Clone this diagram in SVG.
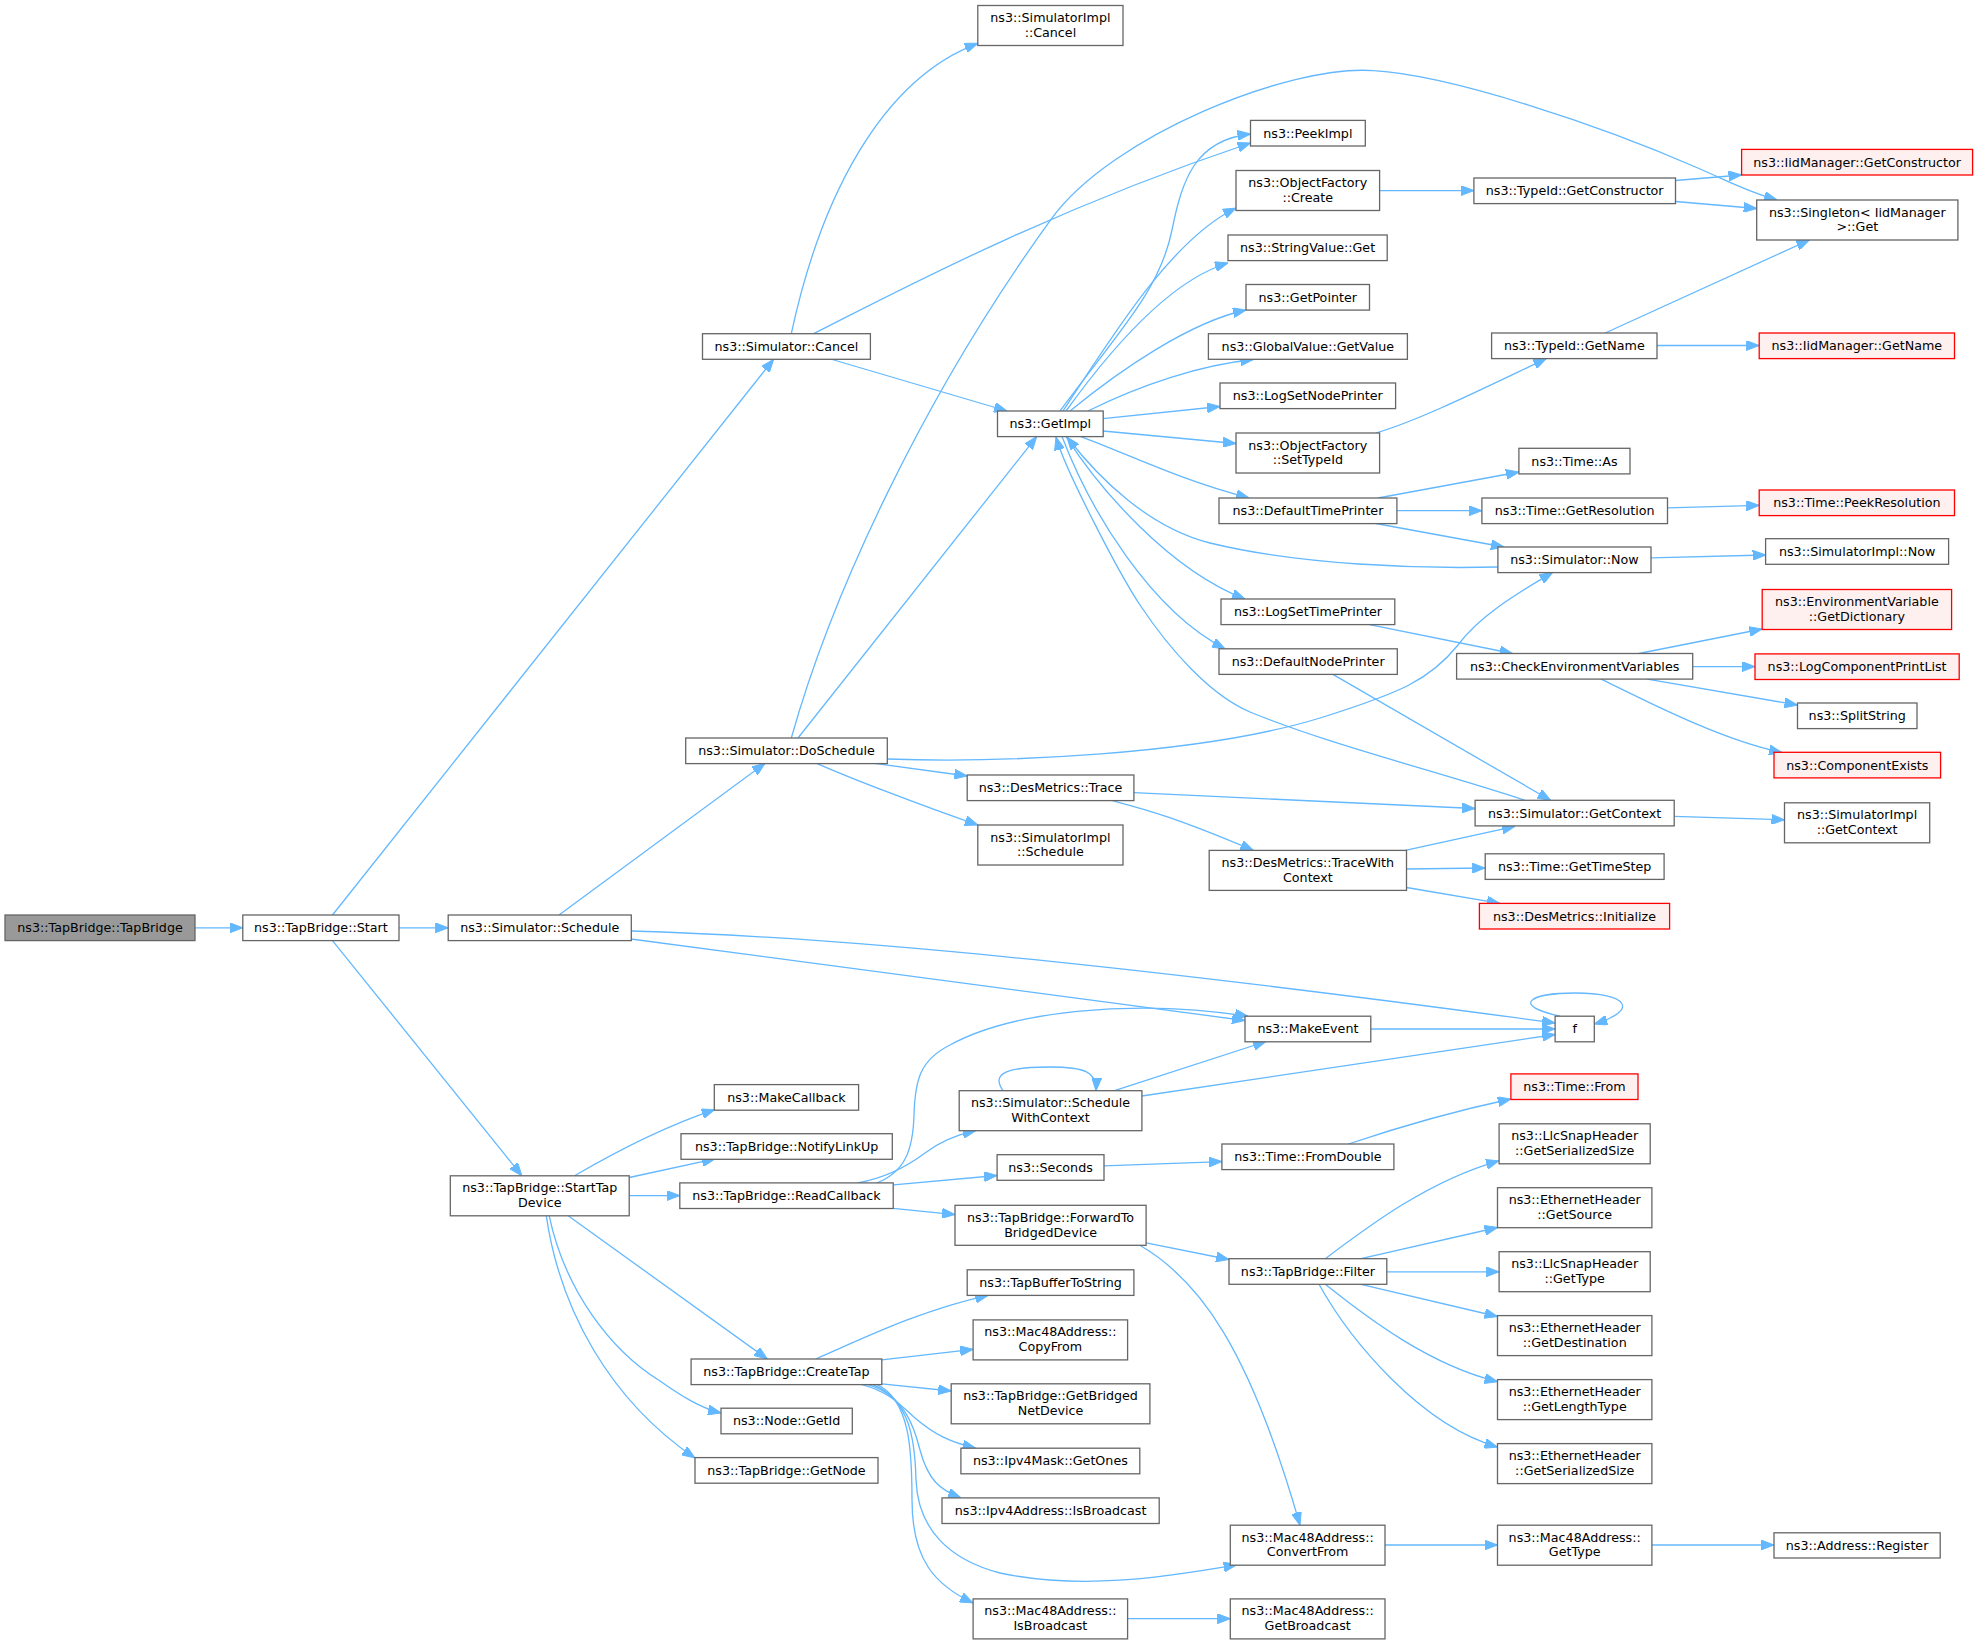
<svg xmlns="http://www.w3.org/2000/svg" width="1979" height="1644" viewBox="0 0 1979 1644">
<style>
.n rect{fill:#ffffff;stroke:#666666;stroke-width:1.3}
.r rect{fill:#fff0f0;stroke:#ff0000;stroke-width:1.3}
.root rect{fill:#999999;stroke:#666666;stroke-width:1.3}
text{font-family:"DejaVu Sans","Liberation Sans",sans-serif;font-size:12.7px;text-anchor:middle;fill:#000}
.e path{fill:none;stroke:#63b8ff;stroke-width:1.3;marker-end:url(#ah)}
</style>
<defs>
<marker id="ah" viewBox="0 0 13 10" refX="13" refY="5" markerWidth="13" markerHeight="10" orient="auto" markerUnits="userSpaceOnUse"><path d="M0,0 L13,5 L0,10 z" fill="#63b8ff" stroke="#63b8ff" stroke-width="1"/></marker>
</defs>
<rect width="1979" height="1644" fill="#ffffff"/>
<g id="edges" class="e">
<path d="M195,927.8 L242.8,927.8"/>
<path d="M332.5,915 L773.6,359.3"/>
<path d="M399,927.8 L448.2,927.8"/>
<path d="M332.5,940.6 L521.9,1175.8"/>
<path d="M559,915 L765,763.3"/>
<path d="M631,939 L1245,1020.5"/>
<path d="M631.3,931 C880,938 1200,975 1555.1,1023"/>
<path d="M791.3,333.7 C820,200 880,80 977.8,43.3"/>
<path d="M813.6,333.7 C900,290 1050,210 1250.5,143"/>
<path d="M830.5,359 L1007,411"/>
<path d="M791.3,738 C830,600 920,400 1051.4,218.9 C1111.4,136 1290,64 1373.7,70.7 C1450,75 1600,125 1697.8,168 C1730,182 1748,192 1777,200"/>
<path d="M798,738 L1036.7,436.6"/>
<path d="M887.3,759 C1000,763 1200,755 1320,718 C1400,693 1430,680 1458,645 C1480,615 1520,592 1552.6,572.4"/>
<path d="M874.6,763.3 L967.2,776"/>
<path d="M816.6,763.3 C850,778 920,805 977.8,825"/>
<path d="M1060,411 C1120,330 1160,290 1172,230 C1182,180 1195,140 1250.5,134"/>
<path d="M1063,411 C1110,340 1170,240 1236,208"/>
<path d="M1066,411 C1110,350 1170,280 1228,263"/>
<path d="M1070,411 C1120,370 1190,322 1246,310"/>
<path d="M1088,411 C1140,385 1200,365 1253.4,359.5"/>
<path d="M1103,418.7 L1220,406.5"/>
<path d="M1103,431 L1236,443.5"/>
<path d="M1081,436.6 C1130,455 1180,480 1249,498"/>
<path d="M1066,436.6 C1100,490 1170,570 1245,599"/>
<path d="M1062,436.6 C1090,510 1150,610 1225,648.8"/>
<path d="M1497.9,567 C1420,569 1300,565 1210,543 C1150,528 1100,480 1067,437"/>
<path d="M1525,800.3 C1440,772 1330,745 1250,712 C1210,695 1170,650 1140,605 C1120,575 1065,470 1056,437"/>
<path d="M1651,557.8 L1765.6,555"/>
<path d="M1379.6,190.6 L1473.9,190.6"/>
<path d="M1675.5,180.5 L1741.6,175"/>
<path d="M1675.5,201.5 L1756.7,208.5"/>
<path d="M1375.8,433 C1420,420 1480,390 1546.3,358.6"/>
<path d="M1605.2,333 L1809.3,240"/>
<path d="M1657,345.5 L1759.2,345.5"/>
<path d="M1378,498 L1519,472"/>
<path d="M1396.9,510.7 L1481.9,510.7"/>
<path d="M1375.8,523.5 L1504,547"/>
<path d="M1667.5,507.8 L1759.2,505.4"/>
<path d="M1369.5,624.6 L1512.6,653.5"/>
<path d="M1638.9,653.5 L1762.2,629"/>
<path d="M1692.7,666.6 L1755,666.6"/>
<path d="M1647.3,679.1 L1797.5,705"/>
<path d="M1601,679.1 C1640,698 1720,740 1782,752.5"/>
<path d="M1331.6,673.6 L1550.5,800.3"/>
<path d="M1133.9,792.7 L1475.1,808.5"/>
<path d="M1112.4,800.7 C1140,808 1170,815 1253.4,850.4"/>
<path d="M1674.2,816.3 L1784.5,819.8"/>
<path d="M1405.3,850.4 L1515,826.3"/>
<path d="M1406.5,869 L1485.2,868"/>
<path d="M1406.5,887.5 L1500,903.4"/>
<path d="M1370.8,1029 L1555.1,1029"/>
<path d="M1560,1016.2 C1510,1005 1530,993 1575,993 C1628,993 1640,1010 1594.3,1024"/>
<path d="M1003,1090.7 C990,1072 1010,1067 1050,1067 C1085,1067 1097,1072 1096,1090.7"/>
<path d="M1114.5,1090.7 L1266,1041.5"/>
<path d="M1141.9,1096 L1555.1,1034.5"/>
<path d="M876.7,1183 C905,1172 913,1150 914,1115 C915,1080 920,1060 950,1045 C1010,1012 1130,998 1248,1016.2"/>
<path d="M857.8,1182.9 C885,1178 905,1168 925,1153 C940,1142 955,1135 975.7,1130.7"/>
<path d="M893.6,1184.8 L997.1,1175.5"/>
<path d="M893.2,1208.3 L955,1214.6"/>
<path d="M1104,1165.8 L1221.9,1161.6"/>
<path d="M1348.5,1144 C1390,1130 1450,1112 1510.9,1099"/>
<path d="M1146.1,1242.8 L1229,1259.5"/>
<path d="M1139.8,1245.3 C1200,1280 1250,1350 1300,1525.2"/>
<path d="M1325.3,1258.7 C1370,1225 1430,1180 1499.1,1160.8"/>
<path d="M1361,1258.7 L1497.5,1227.5"/>
<path d="M1386.8,1271.8 L1499.1,1271.8"/>
<path d="M1361,1284.3 L1497.5,1316.5"/>
<path d="M1325.3,1284.3 C1370,1320 1430,1365 1497.5,1381.7"/>
<path d="M1319,1284.3 C1350,1340 1420,1425 1497.5,1447"/>
<path d="M1385,1545 L1497.5,1545"/>
<path d="M1651.9,1545 L1774,1545"/>
<path d="M1127.6,1618.7 L1230.3,1618.7"/>
<path d="M574.5,1175.8 C610,1155 660,1128 714.7,1109.6"/>
<path d="M629.2,1177.5 L715,1158.9"/>
<path d="M629.2,1195.6 L679.8,1195.6"/>
<path d="M568.2,1215.8 L767.3,1359"/>
<path d="M549.2,1215.8 C565,1290 610,1350 660,1381 C680,1395 700,1408 721,1413"/>
<path d="M546.3,1215.8 C560,1310 610,1400 695,1458"/>
<path d="M815.7,1359 C860,1340 920,1310 988.3,1295.3"/>
<path d="M881.8,1359.8 L973.1,1349.3"/>
<path d="M881.8,1383.8 L951.2,1391"/>
<path d="M862,1384.6 C890,1392 900,1405 915,1418 C935,1435 950,1442 975.7,1448.2"/>
<path d="M868,1384.6 C905,1395 915,1430 920,1450 C928,1480 940,1490 961,1497.9"/>
<path d="M873,1384.6 C910,1400 915,1440 916,1480 C918,1530 950,1560 1000,1573 C1080,1590 1160,1578 1236.6,1564.8"/>
<path d="M877,1384.6 C910,1400 912,1450 912,1500 C912,1560 935,1585 973.1,1603"/>
</g>
<g id="n_tapbridge" class="root"><rect x="5" y="915" width="190" height="25.6"/><text x="100" y="932.2">ns3::TapBridge::TapBridge</text></g>
<g id="n_start" class="n"><rect x="242.8" y="915" width="156.2" height="25.6"/><text x="320.9" y="932.2">ns3::TapBridge::Start</text></g>
<g id="n_schedule" class="n"><rect x="448.2" y="915" width="183.1" height="25.6"/><text x="539.75" y="932.2">ns3::Simulator::Schedule</text></g>
<g id="n_cancel" class="n"><rect x="702.5" y="333.7" width="167.9" height="25.6"/><text x="786.45" y="350.9">ns3::Simulator::Cancel</text></g>
<g id="n_simimpl_cancel" class="n"><rect x="977.8" y="5.5" width="145.2" height="40"/><text x="1050.4" y="22">ns3::SimulatorImpl</text><text x="1050.4" y="36.7">::Cancel</text></g>
<g id="n_peekimpl" class="n"><rect x="1250.5" y="120.4" width="114.8" height="25.6"/><text x="1307.9" y="137.6">ns3::PeekImpl</text></g>
<g id="n_of_create" class="n"><rect x="1236" y="170.5" width="143.6" height="40"/><text x="1307.8" y="187">ns3::ObjectFactory</text><text x="1307.8" y="201.7">::Create</text></g>
<g id="n_stringvalue" class="n"><rect x="1228" y="235" width="159.2" height="25.6"/><text x="1307.6" y="252.2">ns3::StringValue::Get</text></g>
<g id="n_getpointer" class="n"><rect x="1246" y="284.5" width="123.5" height="25.6"/><text x="1307.75" y="301.7">ns3::GetPointer</text></g>
<g id="n_globalvalue" class="n"><rect x="1208.4" y="333.7" width="199" height="25.6"/><text x="1307.9" y="350.9">ns3::GlobalValue::GetValue</text></g>
<g id="n_logsetnode" class="n"><rect x="1220" y="383" width="175.6" height="25.6"/><text x="1307.8" y="400.2">ns3::LogSetNodePrinter</text></g>
<g id="n_of_settypeid" class="n"><rect x="1236" y="433" width="143.6" height="40"/><text x="1307.8" y="449.5">ns3::ObjectFactory</text><text x="1307.8" y="464.2">::SetTypeId</text></g>
<g id="n_defaulttime" class="n"><rect x="1219" y="498" width="177.9" height="25.6"/><text x="1307.95" y="515.2">ns3::DefaultTimePrinter</text></g>
<g id="n_logsettime" class="n"><rect x="1221" y="599" width="173.8" height="25.6"/><text x="1307.9" y="616.2">ns3::LogSetTimePrinter</text></g>
<g id="n_defaultnode" class="n"><rect x="1219" y="648.8" width="178.3" height="25.6"/><text x="1308.15" y="666">ns3::DefaultNodePrinter</text></g>
<g id="n_getimpl" class="n"><rect x="997.5" y="411" width="105.7" height="25.6"/><text x="1050.35" y="428.2">ns3::GetImpl</text></g>
<g id="n_typeid_getconstructor" class="n"><rect x="1473.9" y="178" width="201.6" height="25.6"/><text x="1574.7" y="195.2">ns3::TypeId::GetConstructor</text></g>
<g id="n_iid_getconstructor" class="r"><rect x="1741.6" y="149.4" width="231" height="25.6"/><text x="1857.1" y="166.6">ns3::IidManager::GetConstructor</text></g>
<g id="n_singleton" class="n"><rect x="1756.7" y="200" width="201.2" height="40"/><text x="1857.3" y="216.5">ns3::Singleton&lt; IidManager</text><text x="1857.3" y="231.2">&gt;::Get</text></g>
<g id="n_typeid_getname" class="n"><rect x="1491.6" y="333" width="165.4" height="25.6"/><text x="1574.3" y="350.2">ns3::TypeId::GetName</text></g>
<g id="n_iid_getname" class="r"><rect x="1759.2" y="333" width="195.3" height="25.6"/><text x="1856.85" y="350.2">ns3::IidManager::GetName</text></g>
<g id="n_time_as" class="n"><rect x="1518.9" y="448.3" width="111.1" height="25.6"/><text x="1574.45" y="465.5">ns3::Time::As</text></g>
<g id="n_getresolution" class="n"><rect x="1481.9" y="498" width="185.6" height="25.6"/><text x="1574.7" y="515.2">ns3::Time::GetResolution</text></g>
<g id="n_peekresolution" class="r"><rect x="1759.2" y="490" width="195.3" height="25.6"/><text x="1856.85" y="507.2">ns3::Time::PeekResolution</text></g>
<g id="n_sim_now" class="n"><rect x="1497.9" y="547" width="153.1" height="25.6"/><text x="1574.45" y="564.2">ns3::Simulator::Now</text></g>
<g id="n_simimpl_now" class="n"><rect x="1765.6" y="538.7" width="183" height="25.6"/><text x="1857.1" y="555.9">ns3::SimulatorImpl::Now</text></g>
<g id="n_checkenv" class="n"><rect x="1456.6" y="653.5" width="236.1" height="25.6"/><text x="1574.65" y="670.7">ns3::CheckEnvironmentVariables</text></g>
<g id="n_getdictionary" class="r"><rect x="1762.2" y="589.5" width="189.4" height="40"/><text x="1856.9" y="606">ns3::EnvironmentVariable</text><text x="1856.9" y="620.7">::GetDictionary</text></g>
<g id="n_logcomponent" class="r"><rect x="1755" y="653.9" width="204.2" height="25.6"/><text x="1857.1" y="671.1">ns3::LogComponentPrintList</text></g>
<g id="n_splitstring" class="n"><rect x="1797.5" y="703" width="119.5" height="25.6"/><text x="1857.25" y="720.2">ns3::SplitString</text></g>
<g id="n_componentexists" class="r"><rect x="1774" y="752.3" width="166.6" height="25.6"/><text x="1857.3" y="769.5">ns3::ComponentExists</text></g>
<g id="n_doschedule" class="n"><rect x="685.7" y="738" width="201.6" height="25.6"/><text x="786.5" y="755.2">ns3::Simulator::DoSchedule</text></g>
<g id="n_trace" class="n"><rect x="967.2" y="775" width="166.7" height="25.6"/><text x="1050.55" y="792.2">ns3::DesMetrics::Trace</text></g>
<g id="n_simimpl_schedule" class="n"><rect x="977.8" y="825" width="145.2" height="40"/><text x="1050.4" y="841.5">ns3::SimulatorImpl</text><text x="1050.4" y="856.2">::Schedule</text></g>
<g id="n_tracewithcontext" class="n"><rect x="1209.2" y="850.4" width="197.3" height="40"/><text x="1307.85" y="866.9">ns3::DesMetrics::TraceWith</text><text x="1307.85" y="881.6">Context</text></g>
<g id="n_getcontext" class="n"><rect x="1475.1" y="800.3" width="199.1" height="25.6"/><text x="1574.65" y="817.5">ns3::Simulator::GetContext</text></g>
<g id="n_simimpl_getcontext" class="n"><rect x="1784.5" y="802.8" width="145.2" height="40"/><text x="1857.1" y="819.3">ns3::SimulatorImpl</text><text x="1857.1" y="834">::GetContext</text></g>
<g id="n_gettimestep" class="n"><rect x="1485.2" y="853.8" width="178.9" height="25.6"/><text x="1574.65" y="871">ns3::Time::GetTimeStep</text></g>
<g id="n_initialize" class="r"><rect x="1479.4" y="903.4" width="190.2" height="25.6"/><text x="1574.5" y="920.6">ns3::DesMetrics::Initialize</text></g>
<g id="n_makeevent" class="n"><rect x="1245" y="1016.2" width="125.8" height="25.6"/><text x="1307.9" y="1033.4">ns3::MakeEvent</text></g>
<g id="n_f" class="n"><rect x="1555.1" y="1016.2" width="39.2" height="25.6"/><text x="1574.7" y="1033.4">f</text></g>
<g id="n_schedulewithcontext" class="n"><rect x="959.2" y="1090.7" width="182.7" height="40"/><text x="1050.55" y="1107.2">ns3::Simulator::Schedule</text><text x="1050.55" y="1121.9">WithContext</text></g>
<g id="n_time_from" class="r"><rect x="1510.9" y="1073.9" width="127.1" height="25.6"/><text x="1574.45" y="1091.1">ns3::Time::From</text></g>
<g id="n_fromdouble" class="n"><rect x="1221.9" y="1144" width="172" height="25.6"/><text x="1307.9" y="1161.2">ns3::Time::FromDouble</text></g>
<g id="n_seconds" class="n"><rect x="997.1" y="1154.7" width="106.9" height="25.6"/><text x="1050.55" y="1171.9">ns3::Seconds</text></g>
<g id="n_makecallback" class="n"><rect x="714.3" y="1084.6" width="144.3" height="25.6"/><text x="786.45" y="1101.8">ns3::MakeCallback</text></g>
<g id="n_notifylinkup" class="n"><rect x="681" y="1133.7" width="211.3" height="25.6"/><text x="786.65" y="1150.9">ns3::TapBridge::NotifyLinkUp</text></g>
<g id="n_starttapdevice" class="n"><rect x="450.3" y="1175.8" width="178.9" height="40"/><text x="539.75" y="1192.3">ns3::TapBridge::StartTap</text><text x="539.75" y="1207">Device</text></g>
<g id="n_readcallback" class="n"><rect x="679.8" y="1182.9" width="213.4" height="25.6"/><text x="786.5" y="1200.1">ns3::TapBridge::ReadCallback</text></g>
<g id="n_forwardto" class="n"><rect x="955" y="1205.3" width="191.1" height="40"/><text x="1050.55" y="1221.8">ns3::TapBridge::ForwardTo</text><text x="1050.55" y="1236.5">BridgedDevice</text></g>
<g id="n_filter" class="n"><rect x="1229" y="1258.7" width="157.8" height="25.6"/><text x="1307.9" y="1275.9">ns3::TapBridge::Filter</text></g>
<g id="n_llc_getserializedsize" class="n"><rect x="1499.1" y="1123.8" width="151.1" height="40"/><text x="1574.65" y="1140.3">ns3::LlcSnapHeader</text><text x="1574.65" y="1155">::GetSerializedSize</text></g>
<g id="n_eth_getsource" class="n"><rect x="1497.5" y="1187.7" width="154.4" height="40"/><text x="1574.7" y="1204.2">ns3::EthernetHeader</text><text x="1574.7" y="1218.9">::GetSource</text></g>
<g id="n_llc_gettype" class="n"><rect x="1499.1" y="1251.7" width="151.1" height="40"/><text x="1574.65" y="1268.2">ns3::LlcSnapHeader</text><text x="1574.65" y="1282.9">::GetType</text></g>
<g id="n_eth_getdestination" class="n"><rect x="1497.5" y="1315.6" width="154.4" height="40"/><text x="1574.7" y="1332.1">ns3::EthernetHeader</text><text x="1574.7" y="1346.8">::GetDestination</text></g>
<g id="n_eth_getlengthtype" class="n"><rect x="1497.5" y="1379.6" width="154.4" height="40"/><text x="1574.7" y="1396.1">ns3::EthernetHeader</text><text x="1574.7" y="1410.8">::GetLengthType</text></g>
<g id="n_eth_getserializedsize" class="n"><rect x="1497.5" y="1443.6" width="154.4" height="40"/><text x="1574.7" y="1460.1">ns3::EthernetHeader</text><text x="1574.7" y="1474.8">::GetSerializedSize</text></g>
<g id="n_tapbuffertostring" class="n"><rect x="967.2" y="1269.8" width="166.7" height="25.6"/><text x="1050.55" y="1287">ns3::TapBufferToString</text></g>
<g id="n_copyfrom" class="n"><rect x="973.1" y="1319.9" width="154.5" height="40"/><text x="1050.35" y="1336.4">ns3::Mac48Address::</text><text x="1050.35" y="1351.1">CopyFrom</text></g>
<g id="n_getbridgednetdevice" class="n"><rect x="951.2" y="1383.8" width="198.7" height="40"/><text x="1050.55" y="1400.3">ns3::TapBridge::GetBridged</text><text x="1050.55" y="1415">NetDevice</text></g>
<g id="n_getones" class="n"><rect x="960.9" y="1448.2" width="178.9" height="25.6"/><text x="1050.35" y="1465.4">ns3::Ipv4Mask::GetOnes</text></g>
<g id="n_ipv4_isbroadcast" class="n"><rect x="942" y="1497.9" width="217.2" height="25.6"/><text x="1050.6" y="1515.1">ns3::Ipv4Address::IsBroadcast</text></g>
<g id="n_mac_isbroadcast" class="n"><rect x="973.1" y="1598.9" width="154.5" height="40"/><text x="1050.35" y="1615.4">ns3::Mac48Address::</text><text x="1050.35" y="1630.1">IsBroadcast</text></g>
<g id="n_createtap" class="n"><rect x="691.1" y="1359" width="190.7" height="25.6"/><text x="786.45" y="1376.2">ns3::TapBridge::CreateTap</text></g>
<g id="n_node_getid" class="n"><rect x="721" y="1408.2" width="131.3" height="25.6"/><text x="786.65" y="1425.4">ns3::Node::GetId</text></g>
<g id="n_getnode" class="n"><rect x="695" y="1457.6" width="183" height="25.6"/><text x="786.5" y="1474.8">ns3::TapBridge::GetNode</text></g>
<g id="n_convertfrom" class="n"><rect x="1230.3" y="1525.2" width="154.7" height="40"/><text x="1307.65" y="1541.7">ns3::Mac48Address::</text><text x="1307.65" y="1556.4">ConvertFrom</text></g>
<g id="n_mac_gettype" class="n"><rect x="1497.5" y="1525.2" width="154.4" height="40"/><text x="1574.7" y="1541.7">ns3::Mac48Address::</text><text x="1574.7" y="1556.4">GetType</text></g>
<g id="n_address_register" class="n"><rect x="1774" y="1532.8" width="166.2" height="25.2"/><text x="1857.1" y="1549.8">ns3::Address::Register</text></g>
<g id="n_getbroadcast" class="n"><rect x="1230.3" y="1598.9" width="154.7" height="40"/><text x="1307.65" y="1615.4">ns3::Mac48Address::</text><text x="1307.65" y="1630.1">GetBroadcast</text></g>
</svg>
